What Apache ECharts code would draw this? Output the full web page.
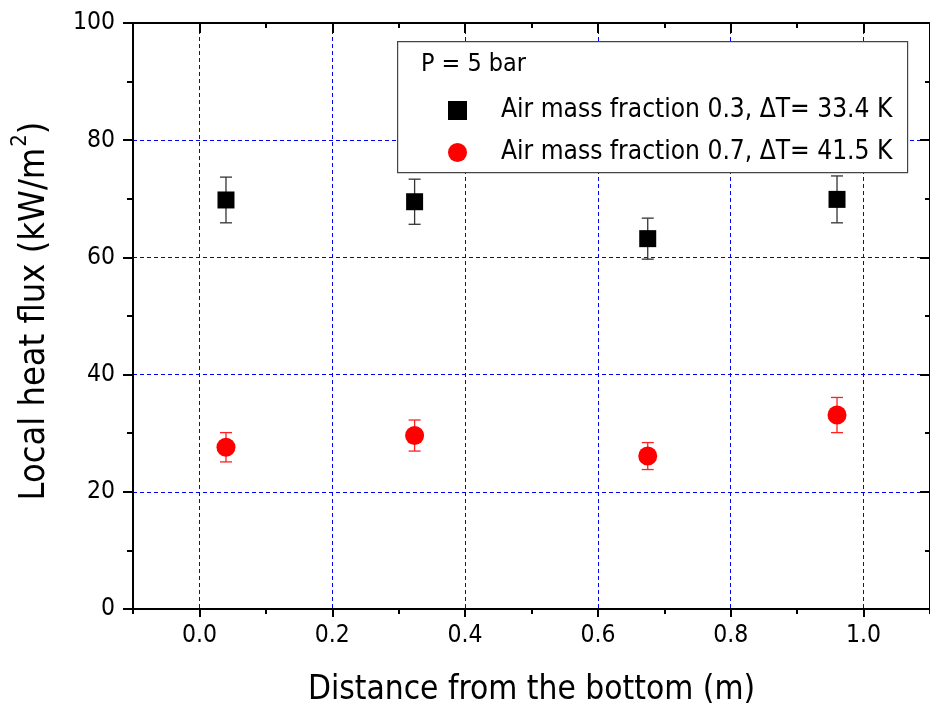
<!DOCTYPE html>
<html>
<head>
<meta charset="utf-8">
<script src="https://cdn.jsdelivr.net/npm/echarts@6/dist/echarts.min.js"></script>
<style>html,body{margin:0;padding:0;background:#fff}#c{width:930px;height:718px}</style>
</head>
<body>
<div id="c"></div>
<script>
// ---- data ----
var positions = [0.04, 0.324, 0.675, 0.96];
var fluxAir03 = [69.8, 69.5, 63.2, 69.9];
var errAir03 = [3.9, 3.85, 3.5, 4.0];
var fluxAir07 = [27.6, 29.6, 26.1, 33.1];
var errAir07 = [2.5, 2.65, 2.3, 3.0];
var xTickLabels = [0.0, 0.2, 0.4, 0.6, 0.8, 1.0];
var seriesNames = ['Air mass fraction 0.3, \u0394T= 33.4 K', 'Air mass fraction 0.7, \u0394T= 41.5 K'];
var legendTitle = 'P = 5 bar';
var xTitle = 'Distance from the bottom (m)';
var yTitleMain = 'Local heat flux (kW/m';
var yTitleSup = '2';

// ---- font selection (pick a narrow font if installed) ----
var ctx = document.createElement('canvas').getContext('2d');
function w(font, txt) { ctx.font = font; return ctx.measureText(txt).width; }
var candidates = ['Liberation Sans Narrow', 'DejaVu Sans Condensed', 'Roboto Condensed', 'Open Sans Condensed', 'Liberation Sans'];
var FAM = 'Liberation Sans';
for (var i = 0; i < candidates.length; i++) {
  var t = 'Air mass fraction abcWQ 0123';
  if (Math.abs(w('100px "' + candidates[i] + '", monospace', t) - w('100px monospace', t)) > 1) { FAM = candidates[i]; break; }
}
var FONT = '"' + FAM + '", sans-serif';
function fit(txt, target) { return Math.round(100 * target / w('100px ' + FONT, txt) * 10) / 10; }
var fsXTitle = fit(xTitle, 447);
var fsLegend = fit(seriesNames[0], 391);
var fsTitle = fit(legendTitle, 105);
var fsTick = fit('0.0', 35);
var fsYTitle = fit(yTitleMain + ')', 365);

function pts(xs, ys) { return xs.map(function (x, i) { return [x, ys[i]]; }); }
function errData(xs, ys, es) { return xs.map(function (x, i) { return [x, ys[i] - es[i], ys[i] + es[i]]; }); }

function errRender(color) {
  return function (params, api) {
    var x = api.value(0);
    var lo = api.coord([x, api.value(1)]);
    var hi = api.coord([x, api.value(2)]);
    var hw = 6;
    var st = { stroke: color, lineWidth: 1.3 };
    return {
      type: 'group',
      children: [
        { type: 'line', shape: { x1: lo[0], y1: lo[1], x2: hi[0], y2: hi[1] }, style: st },
        { type: 'line', shape: { x1: lo[0] - hw, y1: lo[1], x2: lo[0] + hw, y2: lo[1] }, style: st },
        { type: 'line', shape: { x1: hi[0] - hw, y1: hi[1], x2: hi[0] + hw, y2: hi[1] }, style: st }
      ]
    };
  };
}

var gridLS = { color: '#0000ff', width: 1, type: [4, 3] };
var axisLine = { show: true, onZero: false, lineStyle: { color: '#000', width: 2 } };
var tickLS = { color: '#000', width: 2 };

// x axes: scale ticks fall on -0.1, 0.1, ... (short), minor ticks on 0.0, 0.2, ... (long, labelled, gridded)
function xAxisDef(pos) {
  var bottom = pos === 'bottom';
  return {
    type: 'value', position: pos, min: -0.1, max: 1.1, interval: 0.2,
    axisLine: axisLine,
    axisTick: { show: true, inside: !bottom, length: 5, lineStyle: tickLS },
    minorTick: { show: true, splitNumber: 2, length: bottom ? 8 : 10, lineStyle: tickLS },
    splitLine: { show: false },
    minorSplitLine: { show: bottom, lineStyle: gridLS },
    axisLabel: bottom ? {
      show: true, customValues: xTickLabels, margin: 14, color: '#000', fontSize: fsTick, fontFamily: FONT,
      formatter: function (v) { return v.toFixed(1); }
    } : { show: false },
    name: bottom ? xTitle : '', nameLocation: 'middle', nameGap: 65,
    nameTextStyle: { color: '#000', fontSize: fsXTitle, fontFamily: FONT }
  };
}

var chart = echarts.init(document.getElementById('c'), null, { renderer: 'canvas' });
chart.setOption({
  animation: false,
  backgroundColor: '#fff',
  grid: { left: 133, top: 23, width: 804.5, height: 586, containLabel: false },
  xAxis: [xAxisDef('bottom'), xAxisDef('top')],
  yAxis: [
    {
      type: 'value', position: 'left', min: 0, max: 100, interval: 20,
      axisLine: axisLine,
      axisTick: { show: true, inside: false, length: 10, lineStyle: tickLS },
      minorTick: { show: true, splitNumber: 2, length: 6, lineStyle: tickLS },
      axisLabel: { margin: 18, color: '#000', fontSize: fsTick, fontFamily: FONT },
      splitLine: { show: true, lineStyle: gridLS },
      name: '{m|' + yTitleMain + '}{s|' + yTitleSup + '}{m|)}', nameLocation: 'middle', nameGap: 80, nameRotate: 90,
      nameTextStyle: {
        color: '#000', fontFamily: FONT, padding: [0, 0, 0, 10],
        rich: {
          m: { fontSize: fsYTitle, fontFamily: FONT, color: '#000', lineHeight: 44, verticalAlign: 'bottom' },
          s: { fontSize: Math.round(fsYTitle * 0.6), fontFamily: FONT, color: '#000', lineHeight: 44, verticalAlign: 'top', padding: [0, 0, 0, 1] }
        }
      }
    },
    {
      type: 'value', position: 'right', min: 0, max: 100, interval: 20,
      axisLine: axisLine,
      axisTick: { show: true, inside: true, length: 10, lineStyle: tickLS },
      minorTick: { show: true, splitNumber: 2, length: 5, lineStyle: tickLS },
      axisLabel: { show: false },
      splitLine: { show: false }
    }
  ],
  legend: {
    left: 448, top: 95, orient: 'vertical', z: 101,
    itemWidth: 19, itemHeight: 19, itemGap: 11,
    padding: 0,
    textStyle: { color: '#000', fontSize: fsLegend, fontFamily: FONT, lineHeight: 31, padding: [0, 0, 0, 29] },
    data: [
      { name: seriesNames[0], icon: 'rect', itemStyle: { color: '#000' } },
      { name: seriesNames[1], icon: 'circle', itemStyle: { color: '#ff0000' } }
    ]
  },
  graphic: [
    { type: 'rect', left: 397, top: 41, shape: { width: 510, height: 131 }, style: { fill: '#fff', stroke: '#444', lineWidth: 1.2 }, z: 100 },
    { type: 'text', left: 421, top: 52, style: { text: legendTitle, fontSize: fsTitle, fontFamily: FONT, fill: '#000' }, z: 102 }
  ],
  series: [
    {
      name: seriesNames[0] + ' err', type: 'custom', xAxisIndex: 0, yAxisIndex: 0,
      renderItem: errRender('#333'), data: errData(positions, fluxAir03, errAir03), z: 2,
      encode: { x: 0, y: [1, 2] }
    },
    {
      name: seriesNames[1] + ' err', type: 'custom', xAxisIndex: 0, yAxisIndex: 0,
      renderItem: errRender('#ff2020'), data: errData(positions, fluxAir07, errAir07), z: 2,
      encode: { x: 0, y: [1, 2] }
    },
    {
      name: seriesNames[0], type: 'scatter', symbol: 'rect', symbolSize: 17,
      itemStyle: { color: '#000', opacity: 1 }, data: pts(positions, fluxAir03), z: 3
    },
    {
      name: seriesNames[1], type: 'scatter', symbol: 'circle', symbolSize: 19,
      itemStyle: { color: '#ff0000', opacity: 1 }, data: pts(positions, fluxAir07), z: 3
    }
  ]
});
</script>
</body>
</html>
